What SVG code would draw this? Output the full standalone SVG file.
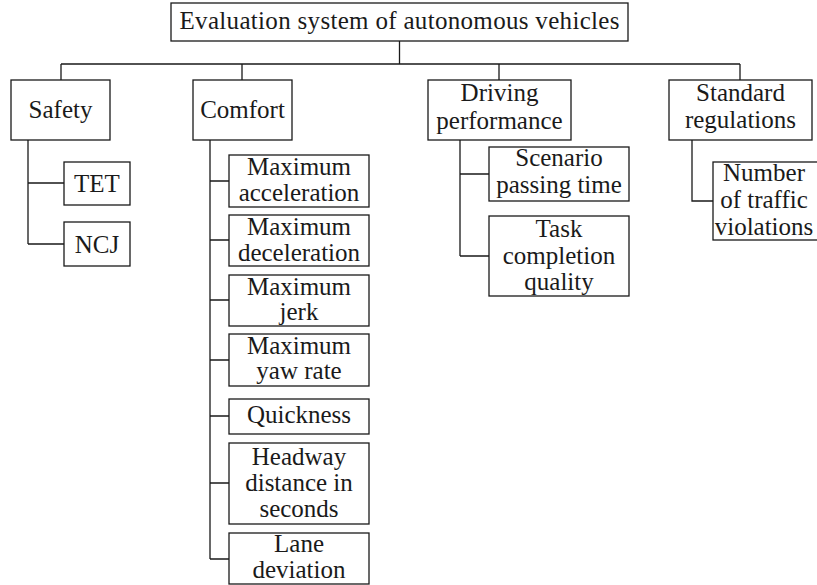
<svg xmlns="http://www.w3.org/2000/svg" width="817" height="585" viewBox="0 0 817 585">
<style>
.b{fill:#fff;stroke:#1a1a1a;stroke-width:1.3}
.c{fill:none;stroke:#1a1a1a;stroke-width:1.3}
text{font-family:"Liberation Serif","Times New Roman",serif;font-size:25px;fill:#1a1a1a;text-anchor:middle}
</style>
<rect width="817" height="585" fill="#fff"/>
<g id="connectors">
<path class="c" d="M399.5,41V64M61,64H740M61,64V80M242,64V80M499,64V80M740,64V80"/>
<path class="c" d="M28,140V244M28,183H64M28,244H64"/>
<path class="c" d="M210,140V559M210,181H229M210,240H229M210,300H229M210,360H229M210,416H229M210,483H229M210,559H229"/>
<path class="c" d="M460,140V256M460,174H489M460,256H489"/>
<path class="c" d="M692,140V201H713"/>
</g>
<g id="root"><rect class="b" x="171" y="3" width="457" height="38"/><text x="399.5" y="29" textLength="440" lengthAdjust="spacing">Evaluation system of autonomous vehicles</text></g>
<g id="safety"><rect class="b" x="11" y="80" width="99" height="60"/><text x="60.5" y="118">Safety</text></g>
<g id="comfort"><rect class="b" x="193" y="80" width="99" height="60"/><text x="242.5" y="118">Comfort</text></g>
<g id="driving"><rect class="b" x="428" y="80" width="143" height="60"/><text x="499.5" y="101">Driving</text><text x="499.5" y="129">performance</text></g>
<g id="standard"><rect class="b" x="669" y="80" width="143" height="60"/><text x="740.5" y="101">Standard</text><text x="740.5" y="128">regulations</text></g>
<g id="tet"><rect class="b" x="64" y="162" width="66" height="43"/><text x="97" y="192">TET</text></g>
<g id="ncj"><rect class="b" x="64" y="222" width="66" height="44"/><text x="97" y="253">NCJ</text></g>
<g id="maxacc"><rect class="b" x="229" y="155" width="140" height="52"/><text x="299" y="175">Maximum</text><text x="299" y="201">acceleration</text></g>
<g id="maxdec"><rect class="b" x="229" y="215" width="140" height="51"/><text x="299" y="235">Maximum</text><text x="299" y="261">deceleration</text></g>
<g id="maxjerk"><rect class="b" x="229" y="275" width="140" height="51"/><text x="299" y="295">Maximum</text><text x="299" y="320">jerk</text></g>
<g id="maxyaw"><rect class="b" x="229" y="334" width="140" height="52"/><text x="299" y="354">Maximum</text><text x="299" y="379">yaw rate</text></g>
<g id="quick"><rect class="b" x="229" y="399" width="140" height="35"/><text x="299" y="423">Quickness</text></g>
<g id="headway"><rect class="b" x="229" y="443" width="140" height="81"/><text x="299" y="465">Headway</text><text x="299" y="491">distance in</text><text x="299" y="517">seconds</text></g>
<g id="lane"><rect class="b" x="229" y="533" width="140" height="51"/><text x="299" y="552">Lane</text><text x="299" y="578">deviation</text></g>
<g id="scenario"><rect class="b" x="489" y="147" width="140" height="54"/><text x="559" y="166">Scenario</text><text x="559" y="193">passing time</text></g>
<g id="task"><rect class="b" x="489" y="216" width="140" height="80"/><text x="559" y="237">Task</text><text x="559" y="264">completion</text><text x="559" y="290">quality</text></g>
<g id="number"><rect class="b" x="713" y="162" width="114" height="78"/><text x="764" y="181">Number</text><text x="764" y="208">of traffic</text><text x="764" y="235">violations</text></g>
</svg>
